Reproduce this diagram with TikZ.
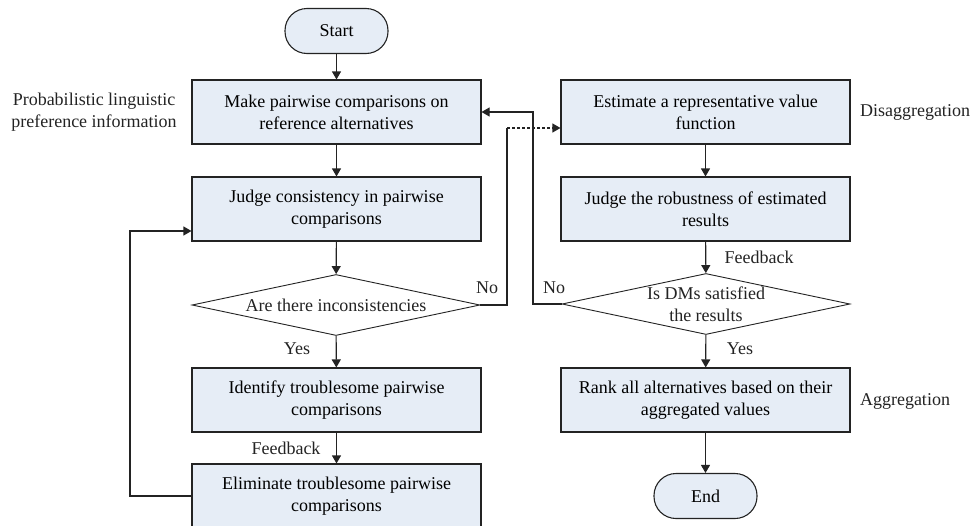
\documentclass[tikz,border=0pt]{standalone}
\usepackage{fontspec}
\setmainfont{Liberation Serif}
\usetikzlibrary{arrows.meta,shapes.geometric}
\definecolor{boxfill}{RGB}{230,237,246}
\definecolor{lc}{RGB}{35,35,35}
\begin{document}
\begin{tikzpicture}[x=1pt,y=-1pt,
  font=\fontsize{18}{22}\selectfont,
  proc/.style={draw=lc,line width=1.1pt,fill=boxfill,minimum width=289pt,minimum height=64pt,align=center,inner sep=0pt},
  term/.style={draw=lc,line width=1.1pt,fill=boxfill,minimum width=103pt,minimum height=45pt,rounded corners=22pt,inner sep=0pt},
  dec/.style={diamond,draw=lc,line width=0.9pt,fill=white,aspect=4.72,minimum width=288pt,minimum height=61pt,inner sep=0pt},
  arr/.style={draw=lc,line width=1.1pt,-{Triangle[length=8pt,width=9pt]}},
  line/.style={draw=lc,line width=1.1pt},
  lbl/.style={inner sep=0pt,align=center,text=lc}]
\useasboundingbox (0,0) rectangle (972,525);

\node[term] (start) at (336.5,31) {Start};
\node[proc] (b1) at (336.5,112) {Make pairwise comparisons on\\reference alternatives};
\node[proc] (b2) at (336.5,209) {Judge consistency in pairwise\\comparisons};
\node[dec] (d1) at (336,305) {};
\node[lbl] (d1t) at (336,305) {Are there inconsistencies};
\node[proc] (b3) at (336.5,400) {Identify troublesome pairwise\\comparisons};
\node[proc] (b4) at (336.5,496) {Eliminate troublesome pairwise\\comparisons};

\node[proc] (b5) at (705.5,112) {Estimate a representative value\\function};
\node[proc] (b6) at (705.5,209) {Judge the robustness of estimated\\results};
\node[dec] (d2) at (706,304) {};
\node[lbl] (d2t) at (706,304) {Is DMs satisfied\\the results};
\node[proc] (b7) at (705.5,400) {Rank all alternatives based on their\\aggregated values};
\node[term] (end) at (705.5,496) {End};

\node[lbl] (lprob) at (94,112) {Probabilistic linguistic\\preference information};
\node[lbl] (ldis) at (915,112) {Disaggregation};
\node[lbl] (lagg) at (905,401) {Aggregation};
\node[lbl] (lyes1) at (297,349) {Yes};
\node[lbl] (lfb1) at (286,448) {Feedback};
\node[lbl] (lno1) at (487,288) {No};
\node[lbl] (lno2) at (554,288) {No};
\node[lbl] (lfb2) at (759,257) {Feedback};
\node[lbl] (lyes2) at (740,349) {Yes};

\draw[arr] (start) -- (b1);
\draw[arr] (b1) -- (b2);
\draw[arr] (b2) -- (d1);
\draw[arr] (d1) -- (b3);
\draw[arr] (b3) -- (b4);

\draw[arr] (b5) -- (b6);
\draw[arr] (b6) -- (d2);
\draw[arr] (d2) -- (b7);
\draw[arr] (b7) -- (end);

\coordinate (lp) at (130,231);
\draw[arr] (b4.west) -| (lp) -- (lp -| b2.west);

\coordinate (c1) at (507,128);
\draw[line] (d1.east) -| (c1);
\draw[arr,dash pattern=on 3pt off 2pt] (c1) -- (c1 -| b5.west);

\coordinate (c2) at (533,112);
\draw[arr] (d2.west) -| (c2) -- (b1.east);
\end{tikzpicture}
\end{document}
